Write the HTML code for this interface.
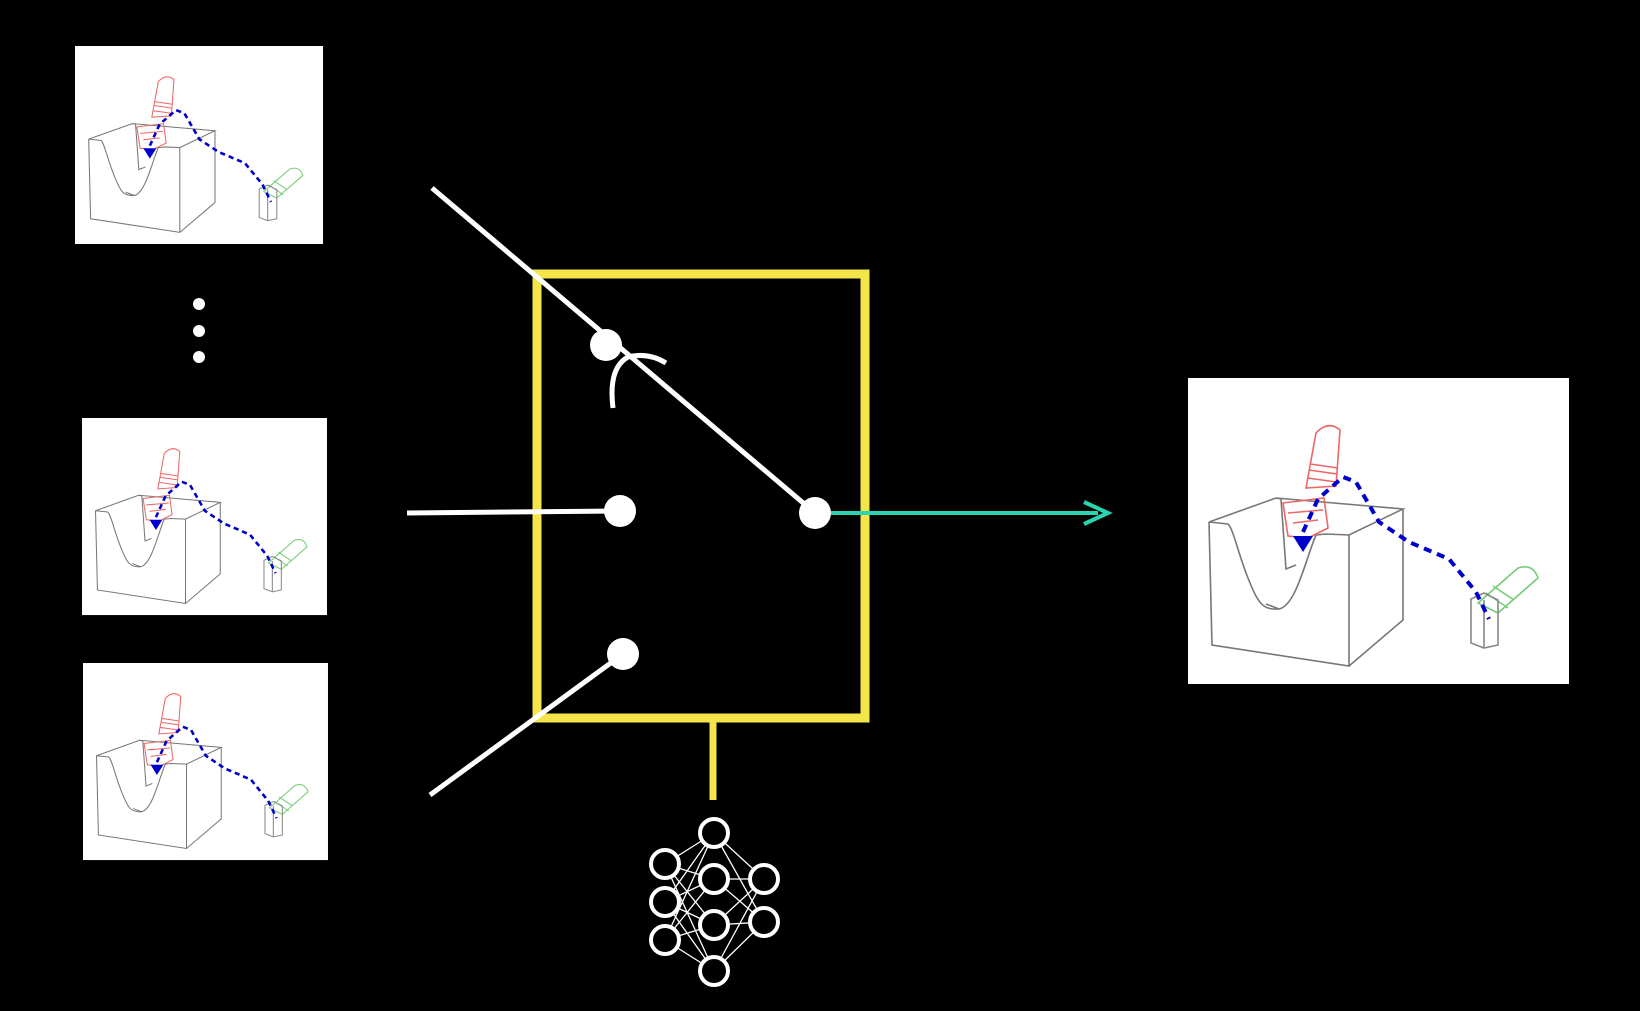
<!DOCTYPE html>
<html><head><meta charset="utf-8"><style>html,body{margin:0;padding:0;background:#000}svg{display:block}</style></head>
<body>
<svg width="1640" height="1011" viewBox="0 0 1640 1011" xmlns="http://www.w3.org/2000/svg">
<defs>
<g id="pc">
<rect x="0" y="0" width="381" height="306" fill="#fff"/>
<g fill="none" stroke="#777" stroke-width="1.6">
<path d="M21,144 L88,120 L215,131 L161,157 L138,156 L128,157 C118,180 108,228 91,231 C74,232 70,225 60,200 C50,175 45,150 40,146 Z"/>
<path d="M21,144 L24,267 L161,288 L215,242 L215,131"/>
<path d="M161,157 L161,288"/>
<path d="M88,120 L93,121 L98,191 L108,187"/>
<path d="M78,226 L91,231"/>
</g>
<g fill="none" stroke="#e66" stroke-width="1.6">
<path d="M118,110 L128,55 Q140,42 152,52 L148,108 Z"/>
<path d="M121,92 L149,96 M122,86 L150,90 M120,100 L148,104"/>
<path d="M95,125 L136,120 L140,150 L120,160 L100,158 Z M100,135 L135,132 M105,145 L130,142"/>
</g>
<g fill="none" stroke="#7c7" stroke-width="1.6">
<path d="M290,225 L330,190 Q345,185 350,200 L310,235 Z M298,215 L320,230 M305,208 L326,222"/>
</g>
<g fill="none" stroke="#888" stroke-width="1.6"><path d="M283,221 L296,215 L310,222 L310,267 L296,270 L283,265 Z M296,222 L296,270"/></g>
<path d="M115,154 L130,121 L155,99 L168,104 L191,144 L221,164 L261,181 L288,214 L301,241" fill="none" stroke="#00c" stroke-width="4" stroke-dasharray="8,6"/>
<path d="M105,158 L125,158 L115,174 Z" fill="#00c"/>
</g>
</defs>
<rect width="1640" height="1011" fill="#000"/>
<use href="#pc" transform="translate(75,46) scale(0.651,0.647)"/>
<use href="#pc" transform="translate(82,418) scale(0.643,0.644)"/>
<use href="#pc" transform="translate(83,663) scale(0.643,0.644)"/>
<use href="#pc" transform="translate(1188,378)"/>
<circle cx="199" cy="304" r="6" fill="#fff"/><circle cx="199" cy="331" r="6" fill="#fff"/><circle cx="199" cy="357" r="6" fill="#fff"/>
<rect x="537" y="274" width="328" height="444" fill="none" stroke="#f5e54a" stroke-width="9"/>
<line x1="713" y1="722" x2="713" y2="800" stroke="#f5e54a" stroke-width="7"/>
<g stroke="#fff" stroke-width="5" fill="none">
<line x1="432" y1="188" x2="815" y2="513"/>
<line x1="407" y1="513" x2="620" y2="511"/>
<line x1="430" y1="795" x2="623" y2="654"/>
<path d="M613,408 Q608,368 628,357 Q648,352 666,363"/>
</g>
<g fill="#fff"><circle cx="606" cy="345" r="16"/><circle cx="815" cy="513" r="16"/><circle cx="620" cy="511" r="16"/><circle cx="623" cy="654" r="16"/></g>
<line x1="831" y1="513" x2="1098" y2="513" stroke="#2ad4b0" stroke-width="4"/>
<path d="M1084,502 L1108,513 L1084,524" fill="none" stroke="#2ad4b0" stroke-width="4"/>
<g stroke="#fff" stroke-width="1.3">
<path d="M665,864 L714,833 M665,864 L714,879 M665,864 L714,925 M665,864 L714,971 M665,902 L714,833 M665,902 L714,879 M665,902 L714,925 M665,902 L714,971 M665,940 L714,833 M665,940 L714,879 M665,940 L714,925 M665,940 L714,971 M714,833 L764,879 M714,833 L764,922 M714,879 L764,879 M714,879 L764,922 M714,925 L764,879 M714,925 L764,922 M714,971 L764,879 M714,971 L764,922"/>
</g>
<g stroke="#fff" stroke-width="4" fill="#000">
<circle cx="665" cy="864" r="14"/><circle cx="665" cy="902" r="14"/><circle cx="665" cy="940" r="14"/>
<circle cx="714" cy="833" r="14"/><circle cx="714" cy="879" r="14"/><circle cx="714" cy="925" r="14"/><circle cx="714" cy="971" r="14"/>
<circle cx="764" cy="879" r="14"/><circle cx="764" cy="922" r="14"/>
</g>
</svg>
</body></html>
